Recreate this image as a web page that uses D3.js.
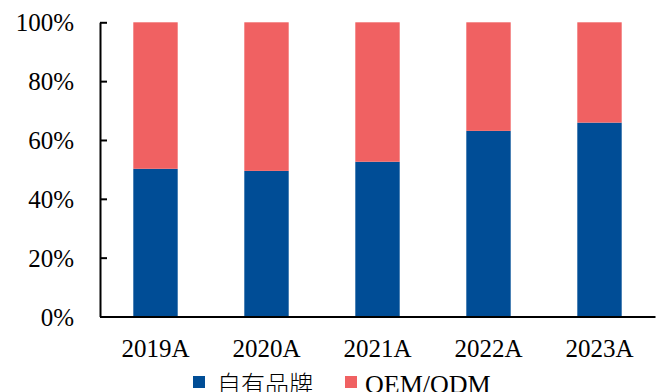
<!DOCTYPE html>
<html>
<head>
<meta charset="utf-8">
<script src="https://cdn.jsdelivr.net/npm/d3@7"></script>
<style>
  html, body { margin: 0; padding: 0; background: #fff; }
  svg { display: block; }
  text { font-family: "Liberation Serif", "Times New Roman", serif; fill: #000; }
</style>
</head>
<body>
<svg id="chart" width="664" height="392"></svg>
<script>
// Revenue mix by sales model, share of total (%)
const categories = ["2019A", "2020A", "2021A", "2022A", "2023A"];
const ownBrand = [50.2, 49.5, 52.6, 63.1, 65.9];   // 自有品牌
const oemOdm = [49.8, 50.5, 47.4, 36.9, 34.1];     // OEM/ODM
const yTicks = [0, 20, 40, 60, 80, 100];
const seriesNames = ["自有品牌", "OEM/ODM"];
const seriesColors = ["#004D96", "#F06162"];

const svg = d3.select("#chart");
const margin = { left: 100, right: 9, top: 22.3, bottom: 75.5 };
const W = 664, H = 392;

const x = d3.scaleBand()
  .domain(categories)
  .range([margin.left, W - margin.right])
  .paddingInner(0.6)
  .paddingOuter(0.3);

const y = d3.scaleLinear()
  .domain([0, 100])
  .range([H - margin.bottom, margin.top]);

const rows = categories.map((c, i) => ({ cat: c, own: ownBrand[i], oem: oemOdm[i] }));
const stacked = d3.stack().keys(["own", "oem"])(rows);

svg.append("g")
  .selectAll("g")
  .data(stacked)
  .join("g")
  .attr("fill", (d, i) => seriesColors[i])
  .selectAll("rect")
  .data(d => d)
  .join("rect")
  .attr("x", d => x(d.data.cat))
  .attr("width", x.bandwidth())
  .attr("y", d => y(d[1]))
  .attr("height", d => y(d[0]) - y(d[1]));

// Y axis: inward ticks, labels on the left
const yAxis = svg.append("g")
  .attr("transform", `translate(${margin.left},0)`)
  .call(d3.axisRight(y).tickValues(yTicks).tickSize(7).tickSizeOuter(0).tickFormat(d => d + "%"));
yAxis.select(".domain").attr("stroke", "#000").attr("stroke-width", 2);
yAxis.selectAll(".tick line").attr("stroke", "#000").attr("stroke-width", 2);
yAxis.selectAll(".tick text")
  .attr("x", -26)
  .attr("text-anchor", "end")
  .attr("dy", "0.34em")
  .style("font-size", "25px")
  .style("font-family", "'Liberation Serif', serif");

// X axis
const xAxis = svg.append("g")
  .attr("transform", `translate(0,${H - margin.bottom})`)
  .call(d3.axisBottom(x).tickSize(0).tickSizeOuter(0));
xAxis.select(".domain").attr("stroke", "#000").attr("stroke-width", 2);
xAxis.selectAll(".tick text")
  .attr("y", 0)
  .attr("dy", "40px")
  .style("font-size", "25px")
  .style("font-family", "'Liberation Serif', serif");

// Legend
const legend = svg.append("g");
const legendItems = [
  { x: 193, tx: 217, font: "'Noto Sans CJK SC', sans-serif", size: "24px" },
  { x: 345, tx: 365, font: "'Liberation Serif', serif", size: "26px" }
];
legendItems.forEach((it, i) => {
  legend.append("rect")
    .attr("x", it.x).attr("y", 376).attr("width", 12).attr("height", 12)
    .attr("fill", seriesColors[i]);
  legend.append("text")
    .attr("x", it.tx).attr("y", 393)
    .style("font-family", it.font)
    .style("font-size", it.size)
    .style("font-weight", i === 0 ? "300" : "normal")
    .text(seriesNames[i]);
});
</script>
</body>
</html>
